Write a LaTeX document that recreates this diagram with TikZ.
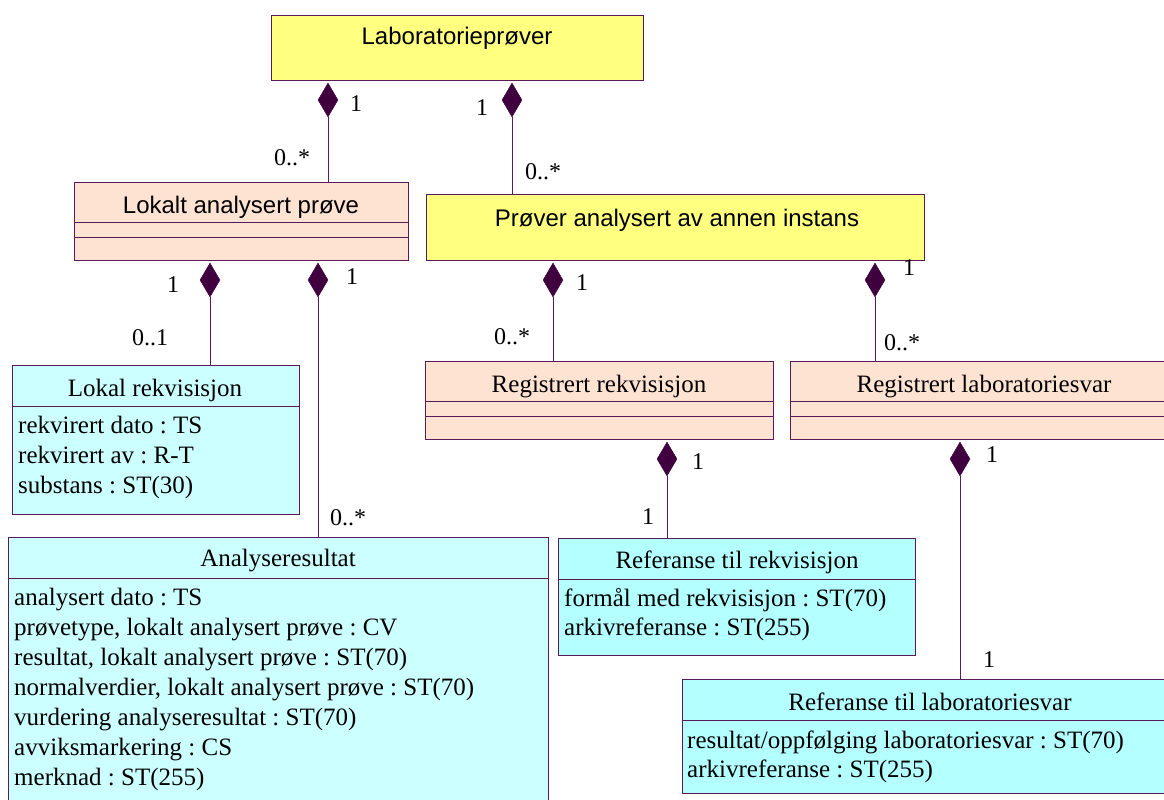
\documentclass[tikz,border=0pt]{standalone}
\usepackage{fontspec}
\setmainfont{Liberation Serif}
\newfontfamily\arialfont{Liberation Sans}
\usepackage{tikz}
\usetikzlibrary{shapes.geometric,positioning}
\definecolor{edge}{HTML}{5A1A5A}
\definecolor{aggfill}{HTML}{400040}
\definecolor{yel}{HTML}{FFFF80}
\definecolor{peach}{HTML}{FFE3D2}
\definecolor{lcyan}{HTML}{CCFFFF}
\definecolor{dcyan}{HTML}{B4FFFF}
\frenchspacing
\tikzset{
  cls/.style={draw=edge, line width=0.9pt, inner sep=0pt, anchor=north west},
  sep/.style={draw=edge, line width=0.9pt},
  link/.style={draw=edge, line width=0.8pt},
  agg/.style={diamond, fill=aggfill, draw=aggfill, inner sep=0pt, minimum width=20pt, minimum height=34pt},
  ttl/.style={font=\fontsize{25}{29}\selectfont, anchor=base, inner sep=0pt},
  ttls/.style={font=\arialfont\fontsize{24}{28}\selectfont, anchor=base, inner sep=0pt},
  attr/.style={font=\fontsize{25}{29}\selectfont, anchor=base west, inner sep=0pt},
  mult/.style={font=\fontsize{24}{28}\selectfont, inner sep=0pt},
}

\begin{document}
\begin{tikzpicture}[x=1pt,y=-1pt]
  \useasboundingbox (0,0) rectangle (1164,800);
  \clip (0,0) rectangle (1164,800);

  % classes
  \node[cls, fill=yel,   minimum width=372pt, minimum height=65pt]  (lab)    at (271,15)  {};
  \node[cls, fill=peach, minimum width=334pt, minimum height=78pt]  (lok)    at (74,182)  {};
  \node[cls, fill=yel,   minimum width=498pt, minimum height=66pt]  (ann)    at (426,194) {};
  \node[cls, fill=peach, minimum width=348pt, minimum height=78pt]  (rrek)   at (425,361) {};
  \node[cls, fill=peach, minimum width=400pt, minimum height=78pt]  (rlab)   at (790,361) {};
  \node[cls, fill=lcyan, minimum width=287pt, minimum height=149pt] (lrek)   at (12,365)  {};
  \node[cls, fill=lcyan, minimum width=540pt, minimum height=300pt] (ares)   at (8,537)   {};
  \node[cls, fill=dcyan, minimum width=357pt, minimum height=117pt] (refrek) at (558,538) {};
  \node[cls, fill=dcyan, minimum width=490pt, minimum height=114pt] (reflab) at (682,679) {};

  % compartments
  \foreach \c in {lok,rrek,rlab} {
    \draw[sep] ([yshift=-40pt]\c.north west) -- ([yshift=-40pt]\c.north east);
    \draw[sep] ([yshift=-55pt]\c.north west) -- ([yshift=-55pt]\c.north east);
  }
  \foreach \c in {lrek,ares,refrek,reflab}
    \draw[sep] ([yshift=-41pt]\c.north west) -- ([yshift=-41pt]\c.north east);

  % titles
  \node[ttls] (labT)    at (457,45)  {Laboratorieprøver};
  \node[ttls] (lokT)    at (241,213) {Lokalt analysert prøve};
  \node[ttls] (annT)    at (677,226) {Prøver analysert av annen instans};
  \node[ttl]  (rrekT)   at (599,392) {Registrert rekvisisjon};
  \node[ttl]  (rlabT)   at (984,392) {Registrert laboratoriesvar};
  \node[ttl]  (lrekT)   at (155,396) {Lokal rekvisisjon};
  \node[ttl]  (aresT)   at (278,566) {Analyseresultat};
  \node[ttl]  (refrekT) at (737,568) {Referanse til rekvisisjon};
  \node[ttl]  (reflabT) at (930,710) {Referanse til laboratoriesvar};

  % attributes
  \foreach \t [count=\i] in {rekvirert dato : TS, rekvirert av : R-T, substans : ST(30)}
    \node[attr] (lrekA\i) at (18,403+30*\i) {\t};
  \foreach \t [count=\i] in {analysert dato : TS, {prøvetype, lokalt analysert prøve : CV},
      {resultat, lokalt analysert prøve : ST(70)}, {normalverdier, lokalt analysert prøve : ST(70)},
      vurdering analyseresultat : ST(70), avviksmarkering : CS, merknad : ST(255)}
    \node[attr] (aresA\i) at (14,575+30*\i) {\t};
  \foreach \t [count=\i] in {formål med rekvisisjon : ST(70), arkivreferanse : ST(255)}
    \node[attr] (refrekA\i) at (564,577+29*\i) {\t};
  \foreach \t [count=\i] in {resultat/oppfølging laboratoriesvar : ST(70), arkivreferanse : ST(255)}
    \node[attr] (reflabA\i) at (687,719+29*\i) {\t};

  % aggregations
  \node[agg] (d1) at (328,100) {};
  \node[agg] (d2) at (512,100) {};
  \node[agg] (d3) at (210,280) {};
  \node[agg] (d4) at (318,280) {};
  \node[agg] (d5) at (553,280) {};
  \node[agg] (d6) at (875,280) {};
  \node[agg] (d7) at (667,459) {};
  \node[agg] (d8) at (960,459) {};
  \foreach \d/\c in {d1/lok,d2/ann,d3/lrek,d4/ares,d5/rrek,d6/rlab,d7/refrek,d8/reflab}
    \draw[link] (\d.south) -- (\c.north -| \d.south);

  % multiplicities
  \node[mult] (m1)  at (356,104) {1};
  \node[mult] (m2)  at (292,158) {0..*};
  \node[mult] (m3)  at (482,108) {1};
  \node[mult] (m4)  at (543,172) {0..*};
  \node[mult] (m5)  at (173,285) {1};
  \node[mult] (m6)  at (150,338) {0..1};
  \node[mult] (m7)  at (352,277) {1};
  \node[mult] (m8)  at (348,518) {0..*};
  \node[mult] (m9)  at (582,283) {1};
  \node[mult] (m10) at (512,337) {0..*};
  \node[mult] (m11) at (909,268) {1};
  \node[mult] (m12) at (902,343) {0..*};
  \node[mult] (m13) at (698,462) {1};
  \node[mult] (m14) at (648,517) {1};
  \node[mult] (m15) at (992,455) {1};
  \node[mult] (m16) at (989,660) {1};
\end{tikzpicture}
\end{document}
